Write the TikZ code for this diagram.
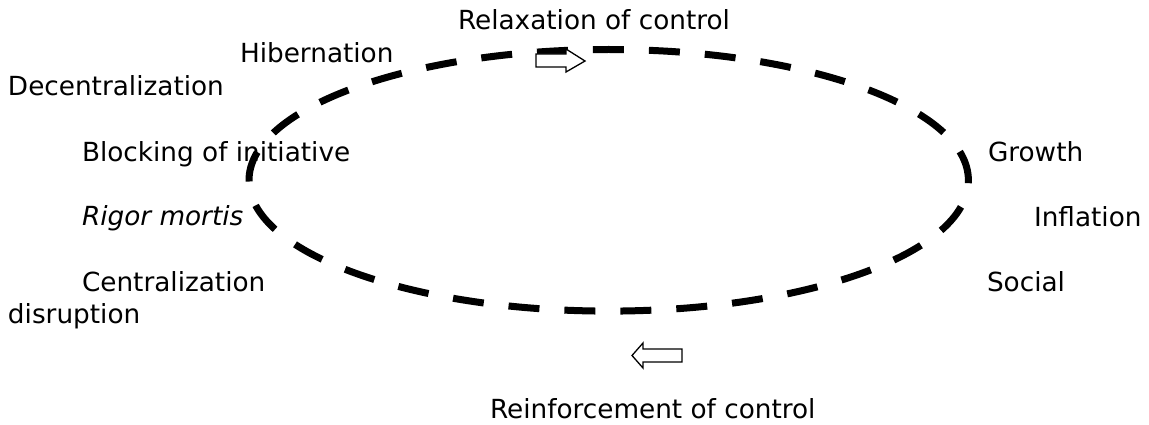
\documentclass[tikz,border=0pt]{standalone}
\usepackage{fontspec}
\setmainfont{DejaVu Sans}
\begin{document}
\begin{tikzpicture}[x=1pt,y=-1pt,
  lbl/.style={anchor=base west,inner sep=0pt,outer sep=0pt,font=\fontsize{26.3}{30}\selectfont},
  cycleline/.style={line width=7pt,dash pattern=on 31pt off 25pt,dash phase=28.1pt},
  hollowarrow/.style={draw=black,fill=white,line width=1.3pt,line join=miter}]
\useasboundingbox (0,0) rectangle (1149,425);
\draw[cycleline] (608.7,180.3) ellipse [x radius=359.7, y radius=130.8];
\node[lbl] (relax) at (458,30) {Relaxation of control};
\node[lbl] (hib) at (240,63) {Hibernation};
\node[lbl] (decent) at (8,96) {Decentralization};
\node[lbl] (block) at (82,162) {Blocking of initiative};
\node[lbl] (rigor) at (82,225) {\itshape Rigor mortis};
\node[lbl] (central) at (82,291) {Centralization};
\node[lbl] (disr) at (8,323) {disruption};
\node[lbl] (growth) at (988,161) {Growth};
\node[lbl] (infl) at (1034,226) {Inflation};
\node[lbl] (social) at (987,291) {Social};
\node[lbl] (reinf) at (490,418) {Reinforcement of control};
\draw[hollowarrow] (536,54) -- (566,54) -- (566,49) -- (585,61) -- (566,72) -- (566,67) -- (536,67) -- cycle;
\draw[hollowarrow] (682,349) -- (643,349) -- (643,343) -- (632,355.5) -- (643,368) -- (643,362) -- (682,362) -- cycle;
\end{tikzpicture}
\end{document}
